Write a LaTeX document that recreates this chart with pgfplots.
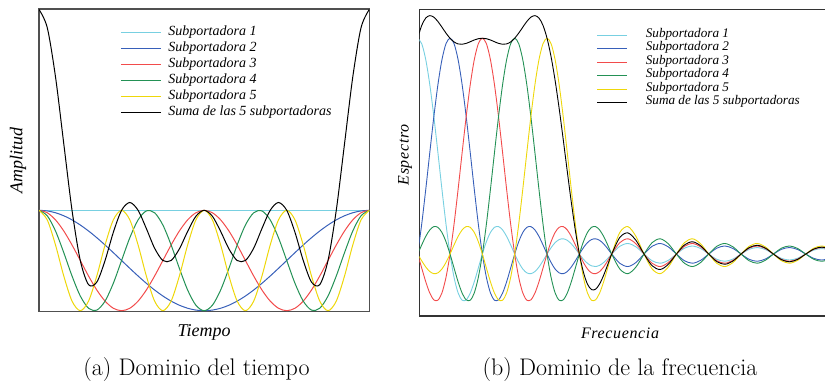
\documentclass[border=0pt]{standalone}
\usepackage{pgfplots}
\pgfplotsset{compat=1.18}
\usepackage{pgfplotstable}
\usepackage{fontspec}
\newfontfamily\lib{Liberation Serif}
\newfontfamily\libsp[LetterSpace=4]{Liberation Serif}
\definecolor{cC}{RGB}{120,208,225}
\definecolor{cB}{RGB}{55,95,185}
\definecolor{cR}{RGB}{242,75,75}
\definecolor{cG}{RGB}{35,145,85}
\definecolor{cY}{RGB}{238,215,10}
\definecolor{frame}{RGB}{80,80,80}

\pgfplotstableread{
x c0 c1 c2 c3 c4 sum
0 1 1 1 1 1 5
0.025 1 0.9877 0.9511 0.8910 0.8090 4.6388
0.05 1 0.9511 0.8090 0.5878 0.3090 3.6569
0.075 1 0.8910 0.5878 0.1564 -0.3090 2.3262
0.1 1 0.8090 0.3090 -0.3090 -0.8090 1.0
0.125 1 0.7071 0 -0.7071 -1 0
0.15 1 0.5878 -0.3090 -0.9511 -0.8090 -0.4813
0.175 1 0.4540 -0.5878 -0.9877 -0.3090 -0.4305
0.2 1 0.3090 -0.8090 -0.8090 0.3090 0
0.225 1 0.1564 -0.9511 -0.4540 0.8090 0.5603
0.25 1 0 -1 0 1 1
0.275 1 -0.1564 -0.9511 0.4540 0.8090 1.1555
0.3 1 -0.3090 -0.8090 0.8090 0.3090 1.0
0.325 1 -0.4540 -0.5878 0.9877 -0.3090 0.6369
0.35 1 -0.5878 -0.3090 0.9511 -0.8090 0.2453
0.375 1 -0.7071 0 0.7071 -1 0
0.4 1 -0.8090 0.3090 0.3090 -0.8090 0
0.425 1 -0.8910 0.5878 -0.1564 -0.3090 0.2314
0.45 1 -0.9511 0.8090 -0.5878 0.3090 0.5791
0.475 1 -0.9877 0.9511 -0.8910 0.8090 0.8814
0.5 1 -1 1 -1 1 1
0.525 1 -0.9877 0.9511 -0.8910 0.8090 0.8814
0.55 1 -0.9511 0.8090 -0.5878 0.3090 0.5791
0.575 1 -0.8910 0.5878 -0.1564 -0.3090 0.2314
0.6 1 -0.8090 0.3090 0.3090 -0.8090 0
0.625 1 -0.7071 0 0.7071 -1 0
0.65 1 -0.5878 -0.3090 0.9511 -0.8090 0.2453
0.675 1 -0.4540 -0.5878 0.9877 -0.3090 0.6369
0.7 1 -0.3090 -0.8090 0.8090 0.3090 1.0
0.725 1 -0.1564 -0.9511 0.4540 0.8090 1.1555
0.75 1 0 -1 0 1 1
0.775 1 0.1564 -0.9511 -0.4540 0.8090 0.5603
0.8 1 0.3090 -0.8090 -0.8090 0.3090 0
0.825 1 0.4540 -0.5878 -0.9877 -0.3090 -0.4305
0.85 1 0.5878 -0.3090 -0.9511 -0.8090 -0.4813
0.875 1 0.7071 0 -0.7071 -1 0
0.9 1 0.8090 0.3090 -0.3090 -0.8090 1.0
0.925 1 0.8910 0.5878 0.1564 -0.3090 2.3262
0.95 1 0.9511 0.8090 0.5878 0.3090 3.6569
0.975 1 0.9877 0.9511 0.8910 0.8090 4.6388
1 1 1 1 1 1 5
}\timetab

\pgfplotstableread{
x s1 s2 s3 s4 s5 sum
0 1 0 0 0 0 1
0.125 0.97450 0.13921 -0.06497 0.04237 -0.03144 1.05967
0.25 0.90032 0.30011 -0.12862 0.08185 -0.06002 1.09364
0.375 0.78421 0.47053 -0.18097 0.11203 -0.08113 1.10467
0.5 0.63662 0.63662 -0.21221 0.12732 -0.09095 1.09740
0.625 0.47053 0.78421 -0.21388 0.12382 -0.08714 1.07754
0.75 0.30011 0.90032 -0.18006 0.10004 -0.06926 1.05115
0.875 0.13921 0.97450 -0.10828 0.05732 -0.03898 1.02377
1 0 1 0 0 0 1
1.125 -0.10828 0.97450 0.13921 -0.06497 0.04237 0.98283
1.25 -0.18006 0.90032 0.30011 -0.12862 0.08185 0.97360
1.375 -0.21388 0.78421 0.47053 -0.18097 0.11203 0.97192
1.5 -0.21221 0.63662 0.63662 -0.21221 0.12732 0.97614
1.625 -0.18097 0.47053 0.78421 -0.21388 0.12382 0.98371
1.75 -0.12862 0.30011 0.90032 -0.18006 0.10004 0.99179
1.875 -0.06497 0.13921 0.97450 -0.10828 0.05732 0.99778
2 0 0 1 0 0 1
2.125 0.05732 -0.10828 0.97450 0.13921 -0.06497 0.99778
2.25 0.10004 -0.18006 0.90032 0.30011 -0.12862 0.99179
2.375 0.12382 -0.21388 0.78421 0.47053 -0.18097 0.98371
2.5 0.12732 -0.21221 0.63662 0.63662 -0.21221 0.97614
2.625 0.11203 -0.18097 0.47053 0.78421 -0.21388 0.97192
2.75 0.08185 -0.12862 0.30011 0.90032 -0.18006 0.97360
2.875 0.04237 -0.06497 0.13921 0.97450 -0.10828 0.98283
3 0 0 0 1 0 1
3.125 -0.03898 0.05732 -0.10828 0.97450 0.13921 1.02377
3.25 -0.06926 0.10004 -0.18006 0.90032 0.30011 1.05115
3.375 -0.08714 0.12382 -0.21388 0.78421 0.47053 1.07754
3.5 -0.09095 0.12732 -0.21221 0.63662 0.63662 1.09740
3.625 -0.08113 0.11203 -0.18097 0.47053 0.78421 1.10467
3.75 -0.06002 0.08185 -0.12862 0.30011 0.90032 1.09364
3.875 -0.03144 0.04237 -0.06497 0.13921 0.97450 1.05967
4 0 0 0 0 1 1
4.125 0.02953 -0.03898 0.05732 -0.10828 0.97450 0.91409
4.25 0.05296 -0.06926 0.10004 -0.18006 0.90032 0.80400
4.375 0.06722 -0.08714 0.12382 -0.21388 0.78421 0.67423
4.5 0.07074 -0.09095 0.12732 -0.21221 0.63662 0.53152
4.625 0.06358 -0.08113 0.11203 -0.18097 0.47053 0.38404
4.75 0.04739 -0.06002 0.08185 -0.12862 0.30011 0.24071
4.875 0.02499 -0.03144 0.04237 -0.06497 0.13921 0.11016
5 0 0 0 0 0 0
5.125 -0.02377 0.02953 -0.03898 0.05732 -0.10828 -0.08418
5.25 -0.04287 0.05296 -0.06926 0.10004 -0.18006 -0.13919
5.375 -0.05471 0.06722 -0.08714 0.12382 -0.21388 -0.16469
5.5 -0.05787 0.07074 -0.09095 0.12732 -0.21221 -0.16297
5.625 -0.05228 0.06358 -0.08113 0.11203 -0.18097 -0.13877
5.75 -0.03914 0.04739 -0.06002 0.08185 -0.12862 -0.09854
5.875 -0.02073 0.02499 -0.03144 0.04237 -0.06497 -0.04978
6 0 0 0 0 0 0
6.25 0.03601 -0.04287 0.05296 -0.06926 0.10004 0.07688
6.5 0.04897 -0.05787 0.07074 -0.09095 0.12732 0.09821
6.75 0.03334 -0.03914 0.04739 -0.06002 0.08185 0.06342
7 0 0 0 0 0 0
7.25 -0.03105 0.03601 -0.04287 0.05296 -0.06926 -0.05421
7.5 -0.04244 0.04897 -0.05787 0.07074 -0.09095 -0.07155
7.75 -0.02904 0.03334 -0.03914 0.04739 -0.06002 -0.04747
8 0 0 0 0 0 0
8.25 0.02728 -0.03105 0.03601 -0.04287 0.05296 0.04233
8.5 0.03745 -0.04244 0.04897 -0.05787 0.07074 0.05685
8.75 0.02572 -0.02904 0.03334 -0.03914 0.04739 0.03827
9 0 0 0 0 0 0
9.25 -0.02433 0.02728 -0.03105 0.03601 -0.04287 -0.03496
9.5 -0.03351 0.03745 -0.04244 0.04897 -0.05787 -0.04740
9.75 -0.02309 0.02572 -0.02904 0.03334 -0.03914 -0.03221
10 0 0 0 0 0 0
10.25 0.02196 -0.02433 0.02728 -0.03105 0.03601 0.02987
10.5 0.03032 -0.03351 0.03745 -0.04244 0.04897 0.04079
10.75 0.02094 -0.02309 0.02572 -0.02904 0.03334 0.02787
11 0 0 0 0 0 0
11.25 -0.02001 0.02196 -0.02433 0.02728 -0.03105 -0.02615
11.5 -0.02768 0.03032 -0.03351 0.03745 -0.04244 -0.03586
11.75 -0.01916 0.02094 -0.02309 0.02572 -0.02904 -0.02463
12 0 0 0 0 0 0
12.25 0.01837 -0.02001 0.02196 -0.02433 0.02728 0.02327
12.5 0.02546 -0.02768 0.03032 -0.03351 0.03745 0.03204
12.75 0.01765 -0.01916 0.02094 -0.02309 0.02572 0.02206
}\freqtab

\begin{document}
\begin{tikzpicture}
\path[use as bounding box] (0pt,0pt) rectangle (825pt,381pt);
% ---------------- (a) time domain
\begin{axis}[
  at={(39pt,69.3pt)}, anchor=south west,
  scale only axis, width=330.3pt, height=302.7pt,
  xmin=0, xmax=1, ymin=-1.02, ymax=5.01,
  xtick=\empty, ytick=\empty,
  axis line style={draw=frame, line width=1.3pt},
  every axis plot/.append style={line width=1pt, smooth, no markers},
  xlabel={\lib\itshape\fontsize{18}{20}\selectfont Tiempo},
  ylabel={\lib\itshape\fontsize{18}{20}\selectfont Amplitud},
  xlabel style={at={(axis description cs:0.5,-0.07)}, anchor=center},
  ylabel style={at={(axis description cs:-0.0636,0.5)}, anchor=center},
  legend image code/.code={\draw[#1] (0pt,0pt) -- (40pt,0pt);},
  legend cell align=left,
  legend style={at={(axis description cs:0.2455,0.948)}, anchor=north west,
    draw=none, fill=none, inner sep=0pt, row sep=0pt,
    /tikz/every odd column/.append style={column sep=7pt},
    font=\lib\itshape\fontsize{14}{16}\selectfont,
    nodes={inner sep=0pt, text height=10.5pt, text depth=5.5pt}},
]
\addplot[cC] table[x=x,y=c0]{\timetab};
\addlegendentry{Subportadora 1}
\addplot[cB] table[x=x,y=c1]{\timetab};
\addlegendentry{Subportadora 2}
\addplot[cR] table[x=x,y=c2]{\timetab};
\addlegendentry{Subportadora 3}
\addplot[cG] table[x=x,y=c3]{\timetab};
\addlegendentry{Subportadora 4}
\addplot[cY] table[x=x,y=c4]{\timetab};
\addlegendentry{Subportadora 5}
\addplot[black] table[x=x,y=sum]{\timetab};
\addlegendentry{Suma de las 5 subportadoras}
\end{axis}
% ---------------- (b) frequency domain
\begin{axis}[
  at={(419.3pt,65pt)}, anchor=south west,
  scale only axis, width=410.7pt, height=306.7pt,
  xmin=0.05, xmax=12.75, ymin=-0.287, ymax=1.134,
  xtick=\empty, ytick=\empty,
  axis line style={draw=black!80, line width=1.1pt},
  every axis plot/.append style={line width=0.9pt, smooth, no markers},
  xlabel={\libsp\itshape\fontsize{16}{18}\selectfont Frecuencia},
  ylabel={\libsp\itshape\fontsize{16}{18}\selectfont Espectro},
  xlabel style={at={(axis description cs:0.4887,-0.0554)}, anchor=center},
  ylabel style={at={(axis description cs:-0.0348,0.525)}, anchor=center},
  legend image code/.code={\draw[#1] (0pt,0pt) -- (30pt,0pt);},
  legend cell align=left,
  legend style={at={(axis description cs:0.432,0.939)}, anchor=north west,
    draw=none, fill=none, inner sep=0pt, row sep=0pt,
    /tikz/every odd column/.append style={column sep=18pt},
    font=\lib\itshape\fontsize{13.2}{15}\selectfont,
    nodes={inner sep=0pt, text height=9pt, text depth=4.55pt}},
]
\addplot[cC] table[x=x,y=s1]{\freqtab};
\addlegendentry{Subportadora 1}
\addplot[cB] table[x=x,y=s2]{\freqtab};
\addlegendentry{Subportadora 2}
\addplot[cR] table[x=x,y=s3]{\freqtab};
\addlegendentry{Subportadora 3}
\addplot[cG] table[x=x,y=s4]{\freqtab};
\addlegendentry{Subportadora 4}
\addplot[cY] table[x=x,y=s5]{\freqtab};
\addlegendentry{Subportadora 5}
\addplot[black] table[x=x,y=sum]{\freqtab};
\addlegendentry{Suma de las 5 subportadoras}
\end{axis}
\node[anchor=base, font=\fontsize{24}{28}\selectfont] at (196.5pt,6pt) {(a) Dominio del tiempo};
\node[anchor=base, font=\fontsize{24}{28}\selectfont] at (620pt,6pt) {(b) Dominio de la frecuencia};
\end{tikzpicture}
\end{document}
